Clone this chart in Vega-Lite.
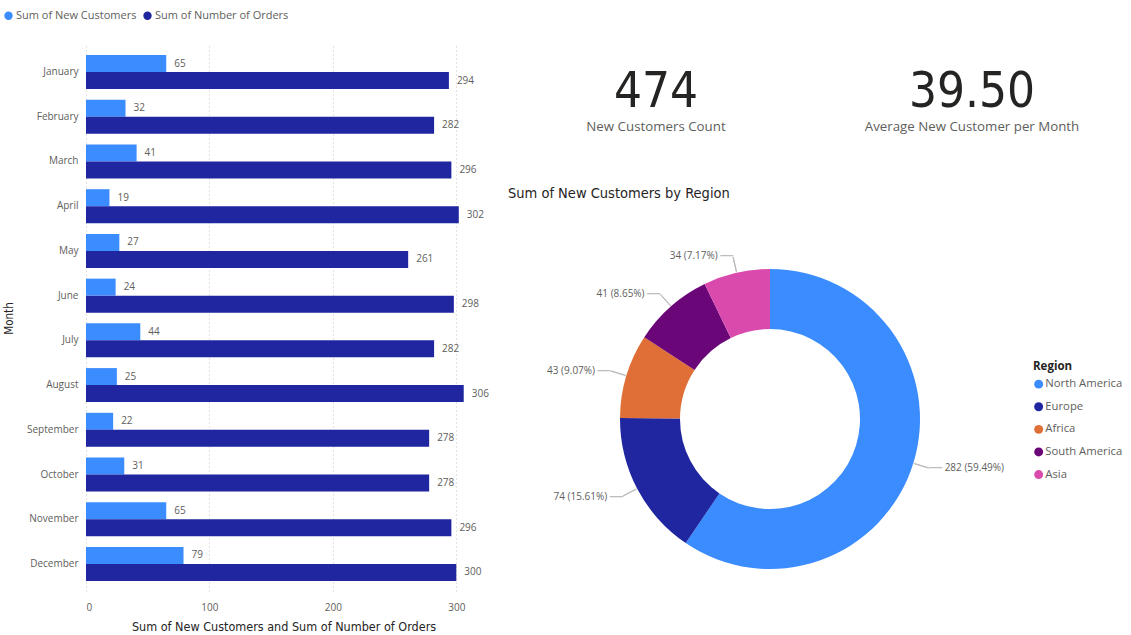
{
  "$schema": "https://vega.github.io/schema/vega-lite/v6.json",
  "background": "white",
  "padding": {"left": 3, "top": 10, "right": 0, "bottom": 0},
  "config": {"view": {"stroke": null}, "font": "Open Sans"},
  "bounds": "flush",
  "spacing": 79,
  "resolve": {"scale": {"color": "independent"}, "legend": {"color": "independent"}},
  "hconcat": [
    {
      "width": 395,
      "height": 546,
      "data": {"values": [
        {"month": "January", "series": "Sum of New Customers", "value": 65},
        {"month": "January", "series": "Sum of Number of Orders", "value": 294},
        {"month": "February", "series": "Sum of New Customers", "value": 32},
        {"month": "February", "series": "Sum of Number of Orders", "value": 282},
        {"month": "March", "series": "Sum of New Customers", "value": 41},
        {"month": "March", "series": "Sum of Number of Orders", "value": 296},
        {"month": "April", "series": "Sum of New Customers", "value": 19},
        {"month": "April", "series": "Sum of Number of Orders", "value": 302},
        {"month": "May", "series": "Sum of New Customers", "value": 27},
        {"month": "May", "series": "Sum of Number of Orders", "value": 261},
        {"month": "June", "series": "Sum of New Customers", "value": 24},
        {"month": "June", "series": "Sum of Number of Orders", "value": 298},
        {"month": "July", "series": "Sum of New Customers", "value": 44},
        {"month": "July", "series": "Sum of Number of Orders", "value": 282},
        {"month": "August", "series": "Sum of New Customers", "value": 25},
        {"month": "August", "series": "Sum of Number of Orders", "value": 306},
        {"month": "September", "series": "Sum of New Customers", "value": 22},
        {"month": "September", "series": "Sum of Number of Orders", "value": 278},
        {"month": "October", "series": "Sum of New Customers", "value": 31},
        {"month": "October", "series": "Sum of Number of Orders", "value": 278},
        {"month": "November", "series": "Sum of New Customers", "value": 65},
        {"month": "November", "series": "Sum of Number of Orders", "value": 296},
        {"month": "December", "series": "Sum of New Customers", "value": 79},
        {"month": "December", "series": "Sum of Number of Orders", "value": 300}
      ]},
      "encoding": {
        "y": {
          "field": "month", "type": "nominal",
          "sort": ["January","February","March","April","May","June","July","August","September","October","November","December"],
          "scale": {"paddingInner": 0.24, "paddingOuter": 0.224},
          "title": "Month",
          "axis": {"domain": false, "ticks": false, "labelFontSize": 10, "labelColor": "#605E5C", "labelPadding": 8,
                   "titleFont": "DejaVu Sans Condensed", "titleFontSize": 11.5, "titleFontWeight": "normal", "titleColor": "#252423",
                   "titleX": -77, "titleY": 273, "titleBaseline": "middle", "titleAlign": "center", "titleAngle": -90}
        },
        "yOffset": {"field": "series", "type": "nominal", "sort": ["Sum of New Customers", "Sum of Number of Orders"], "scale": {"paddingInner": 0, "paddingOuter": 0}},
        "x": {
          "field": "value", "type": "quantitative",
          "scale": {"domain": [0, 320], "nice": false},
          "title": "Sum of New Customers and Sum of Number of Orders",
          "axis": {"values": [0, 100, 200, 300], "grid": true, "gridDash": [1, 3], "gridColor": "#C8C6C4", "domain": false, "ticks": false,
                   "labelFontSize": 10, "labelColor": "#605E5C", "labelPadding": 11,
                   "titleFont": "DejaVu Sans Condensed", "titleFontSize": 12.5, "titleFontWeight": "normal", "titleColor": "#252423", "titlePadding": 8}
        }
      },
      "layer": [
        {
          "mark": {"type": "bar"},
          "encoding": {
            "color": {
              "field": "series", "type": "nominal",
              "scale": {"domain": ["Sum of New Customers", "Sum of Number of Orders"], "range": ["#3B8CFF", "#1F26A0"]},
              "legend": {"orient": "none", "legendX": -83, "legendY": -35, "direction": "horizontal", "title": null,
                         "symbolType": "circle", "symbolSize": 70, "labelFontSize": 11, "labelColor": "#605E5C",
                         "columnPadding": 5, "labelOffset": 2}
            }
          }
        },
        {
          "mark": {"type": "text", "align": "left", "baseline": "middle", "dx": 8, "fontSize": 10, "color": "#605E5C"},
          "encoding": {"text": {"field": "value", "type": "quantitative"}}
        }
      ]
    },
    {
      "bounds": "flush",
      "spacing": 194,
      "resolve": {"scale": {"color": "independent"}, "legend": {"color": "independent"}},
      "vconcat": [
        {
          "bounds": "flush",
          "spacing": 70,
          "hconcat": [
            {
              "width": 192, "height": 100,
              "data": {"values": [{"value": "474", "label": "New Customers Count"}]},
              "layer": [
                {"mark": {"type": "text", "font": "DejaVu Sans Condensed", "fontSize": 49, "color": "#252423", "baseline": "alphabetic", "dy": 12},
                 "encoding": {"text": {"field": "value", "type": "nominal"}}},
                {"mark": {"type": "text", "fontSize": 13.3, "color": "#605E5C", "baseline": "middle", "dy": 32},
                 "encoding": {"text": {"field": "label", "type": "nominal"}}}
              ]
            },
            {
              "width": 300, "height": 100,
              "data": {"values": [{"value": "39.50", "label": "Average New Customer per Month"}]},
              "layer": [
                {"mark": {"type": "text", "font": "DejaVu Sans Condensed", "fontSize": 49, "color": "#252423", "baseline": "alphabetic", "dy": 12},
                 "encoding": {"text": {"field": "value", "type": "nominal"}}},
                {"mark": {"type": "text", "fontSize": 13.3, "color": "#605E5C", "baseline": "middle", "dy": 32},
                 "encoding": {"text": {"field": "label", "type": "nominal"}}}
              ]
            }
          ]
        },
        {
          "width": 420, "height": 360,
          "title": {"text": "Sum of New Customers by Region", "anchor": "start", "frame": "group", "dx": -52, "offset": 38,
                    "font": "DejaVu Sans Condensed", "fontSize": 14.5, "fontWeight": "normal", "color": "#252423"},
          "data": {"values": [
            {"region": "North America", "value": 282, "label": "282 (59.49%)", "rank": 1},
            {"region": "Europe", "value": 74, "label": "74 (15.61%)", "rank": 2},
            {"region": "Africa", "value": 43, "label": "43 (9.07%)", "rank": 3},
            {"region": "South America", "value": 41, "label": "41 (8.65%)", "rank": 4},
            {"region": "Asia", "value": 34, "label": "34 (7.17%)", "rank": 5}
          ]},
          "layer": [
            {
              "mark": {"type": "arc", "outerRadius": 150, "innerRadius": 90},
              "encoding": {
                "theta": {"field": "value", "type": "quantitative", "stack": true},
                "order": {"field": "rank", "type": "quantitative"},
                "color": {
                  "field": "region", "type": "nominal",
                  "scale": {"domain": ["North America", "Europe", "Africa", "South America", "Asia"],
                            "range": ["#3B8CFF", "#1F26A0", "#DF6E37", "#6A0677", "#DA4AAD"]},
                  "legend": {"orient": "none", "legendX": 473, "legendY": 122, "title": "Region",
                             "titleFont": "Open Sans", "titleFontSize": 11.5, "titleFontWeight": "bold", "titleColor": "#252423", "titlePadding": 6,
                             "labelFontSize": 11.3, "labelColor": "#605E5C", "symbolType": "circle", "symbolSize": 80,
                             "rowPadding": 10.6, "labelOffset": 1}
                }
              }
            },
            {
              "transform": [
                {"stack": "value", "groupby": [], "sort": [{"field": "rank", "order": "ascending"}], "as": ["s0", "s1"]},
                {"calculate": "(datum.s0 + datum.s1) / 2", "as": "mid"},
                {"calculate": "datum.mid + 0.2", "as": "mid2"}
              ],
              "mark": {"type": "arc", "outerRadius": 166, "innerRadius": 151, "fill": "#BDBDBD", "stroke": "#BDBDBD", "strokeWidth": 1},
              "encoding": {
                "theta": {"field": "mid", "type": "quantitative", "stack": null},
                "theta2": {"field": "mid2"}
              }
            },
            {
              "transform": [
                {"stack": "value", "groupby": [], "sort": [{"field": "rank", "order": "ascending"}], "as": ["s0", "s1"]},
                {"calculate": "(datum.s0 + datum.s1) / 2", "as": "mid"},
                {"filter": "datum.region === 'North America'"}
              ],
              "layer": [
                {"mark": {"type": "text", "radius": 167, "align": "left", "baseline": "middle", "dx": -1, "fontSize": 14, "color": "#BDBDBD", "text": "—"},
                 "encoding": {"theta": {"field": "mid", "type": "quantitative", "stack": null}}},
                {"mark": {"type": "text", "radius": 167, "align": "left", "baseline": "middle", "dx": 15, "fontSize": 10, "color": "#605E5C"},
                 "encoding": {"theta": {"field": "mid", "type": "quantitative", "stack": null}, "text": {"field": "label", "type": "nominal"}}}
              ]
            },
            {
              "transform": [
                {"stack": "value", "groupby": [], "sort": [{"field": "rank", "order": "ascending"}], "as": ["s0", "s1"]},
                {"calculate": "(datum.s0 + datum.s1) / 2", "as": "mid"},
                {"filter": "datum.region !== 'North America'"}
              ],
              "layer": [
                {"mark": {"type": "text", "radius": 167, "align": "right", "baseline": "middle", "dx": 1, "fontSize": 14, "color": "#BDBDBD", "text": "—"},
                 "encoding": {"theta": {"field": "mid", "type": "quantitative", "stack": null}}},
                {"mark": {"type": "text", "radius": 167, "align": "right", "baseline": "middle", "dx": -15, "fontSize": 10, "color": "#605E5C"},
                 "encoding": {"theta": {"field": "mid", "type": "quantitative", "stack": null}, "text": {"field": "label", "type": "nominal"}}}
              ]
            }
          ]
        }
      ]
    }
  ]
}
